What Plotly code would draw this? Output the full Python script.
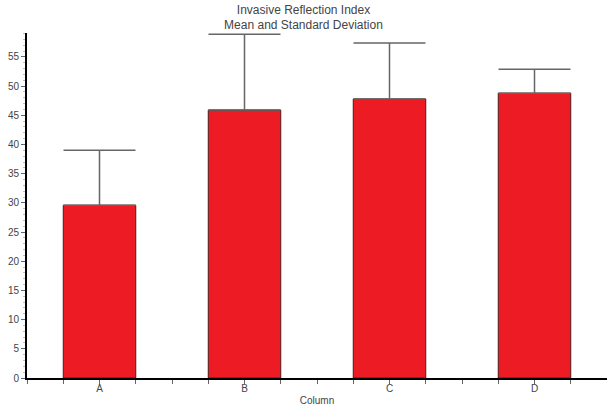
import plotly.graph_objects as go

categories = ["A", "B", "C", "D"]
means = [29.6, 45.9, 47.8, 48.8]
std_devs = [9.4, 13.0, 9.6, 4.1]
zeros = [0, 0, 0, 0]
positions = [0, 1, 2, 3]

fig = go.Figure()
fig.add_trace(go.Bar(
    x=positions, y=means, width=0.5,
    marker=dict(color="#ED1C24", line=dict(color="#4a1a1a", width=1)),
    error_y=dict(type="data", symmetric=False, array=std_devs, arrayminus=zeros,
                 color="#666666", thickness=1.5, width=36),
))

font = "Liberation Sans, Arial, sans-serif"
fig.update_layout(
    width=607, height=410,
    margin=dict(l=27, r=0, t=33, b=32),
    plot_bgcolor="white", paper_bgcolor="white",
    showlegend=False,
    title=dict(text="Invasive Reflection Index<br>Mean and Standard Deviation",
               x=0.5, xanchor="center", y=0.967, yanchor="middle",
               font=dict(family=font, size=12, color="#444444")),
    font=dict(family=font, size=10, color="#444444"),
    xaxis=dict(range=[-0.5, 3.5], tickvals=positions, ticktext=categories,
               ticks="", showgrid=False, zeroline=False,
               showline=True, linecolor="black", linewidth=2,
               minor=dict(dtick=0.25, tick0=0, ticks="outside", ticklen=4,
                          tickcolor="#666666", showgrid=False),
               title=dict(text="Column", standoff=4, font=dict(size=10)),
               tickfont=dict(size=10)),
    yaxis=dict(range=[0, 59.1], dtick=5, ticks="outside", ticklen=4,
               tickcolor="#666666", showgrid=False, zeroline=False,
               showline=True, linecolor="black", linewidth=2,
               minor=dict(dtick=1, ticks="outside", ticklen=2, tickcolor="#bbbbbb"),
               tickfont=dict(size=10)),
)

fig.write_html("out.html", config={"displayModeBar": False},
               post_script="document.body.style.margin='0';document.body.style.overflow='hidden';")
